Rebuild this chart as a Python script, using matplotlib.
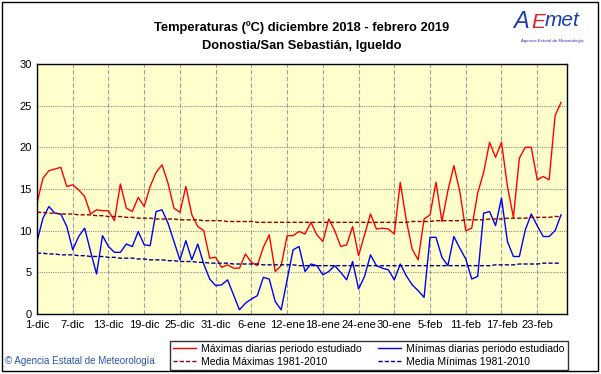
import matplotlib
matplotlib.use("Agg")
import matplotlib.pyplot as plt
import numpy as np
from matplotlib.patches import Rectangle

plt.rcParams["font.family"] = ["Liberation Sans", "DejaVu Sans"]

# Datos diarios 1-dic-2018 .. 27-feb-2019 (ºC)
tmax = [13.3, 16.3, 17.2, 17.4, 17.6, 15.3, 15.5, 14.9, 14.1, 12.0,
        12.5, 12.4, 12.4, 11.2, 15.6, 12.7, 12.3, 14.0, 12.9, 15.3,
        17.0, 17.9, 15.7, 12.7, 12.2, 15.3, 11.9, 10.5, 10.0, 6.7,
        6.8, 5.6, 5.9, 5.5, 5.5, 7.2, 6.2, 5.8, 8.0, 9.5,
        5.1, 5.8, 9.4, 9.4, 9.9, 9.6, 11.0, 9.5, 8.7, 11.4,
        10.0, 8.1, 8.3, 10.5, 7.0, 9.5, 12.0, 10.2, 10.3, 10.2,
        9.6, 15.8, 11.3, 7.8, 6.5, 11.4, 11.9, 15.8, 11.1, 14.8,
        17.8, 14.7, 10.0, 10.3, 14.5, 17.0, 20.6, 18.8, 20.6, 15.3,
        11.6, 18.7, 20.0, 20.0, 16.1, 16.5, 16.1, 23.8, 25.4]

tmin = [8.7, 11.5, 12.9, 12.1, 12.0, 10.5, 7.7, 9.3, 10.3, 7.5,
        4.8, 9.4, 8.1, 7.4, 7.4, 8.4, 8.1, 9.9, 8.3, 8.2,
        12.3, 12.5, 10.9, 8.7, 6.5, 8.8, 6.5, 8.4, 6.0, 4.2,
        3.4, 3.5, 4.1, 2.3, 0.5, 1.3, 1.8, 2.2, 4.4, 4.2,
        1.5, 0.5, 4.1, 7.7, 8.1, 5.1, 6.0, 5.8, 4.7, 5.1,
        5.8, 5.0, 4.1, 6.3, 3.0, 4.5, 7.1, 5.8, 5.5, 5.3,
        4.1, 6.0, 4.6, 3.5, 2.8, 2.0, 9.2, 9.2, 6.8, 5.8,
        9.3, 7.9, 6.6, 4.2, 4.5, 12.1, 12.3, 10.6, 13.9, 8.7,
        6.9, 6.9, 10.1, 12.0, 10.6, 9.3, 9.3, 10.0, 11.9]

# Medias 1981-2010
media_max = [12.2, 12.2, 12.1, 12.1, 12.0, 12.0, 12.0, 11.9, 11.9, 11.9,
             11.8, 11.8, 11.7, 11.7, 11.7, 11.6, 11.6, 11.5, 11.5, 11.5,
             11.4, 11.4, 11.4, 11.4, 11.3, 11.3, 11.3, 11.3, 11.2, 11.2,
             11.2, 11.2, 11.1, 11.1, 11.1, 11.1, 11.1, 11.0, 11.0, 11.0,
             11.0, 11.0, 11.0, 11.0, 11.0, 11.0, 11.0, 11.0, 11.0, 11.0,
             11.0, 11.0, 11.0, 11.0, 11.0, 11.0, 11.0, 11.0, 11.0, 11.0,
             11.0, 11.0, 11.0, 11.1, 11.1, 11.1, 11.1, 11.2, 11.2, 11.2,
             11.2, 11.2, 11.3, 11.3, 11.3, 11.3, 11.4, 11.4, 11.4, 11.5,
             11.5, 11.5, 11.5, 11.6, 11.6, 11.6, 11.6, 11.7, 11.7]

media_min = [7.3, 7.3, 7.2, 7.2, 7.1, 7.1, 7.1, 7.0, 7.0, 6.9,
             6.9, 6.9, 6.8, 6.8, 6.7, 6.7, 6.7, 6.6, 6.6, 6.5,
             6.5, 6.5, 6.4, 6.4, 6.3, 6.3, 6.3, 6.2, 6.2, 6.1,
             6.1, 6.1, 6.1, 6.0, 6.0, 6.0, 6.0, 6.0, 5.9, 5.9,
             5.9, 5.9, 5.9, 5.9, 5.8, 5.8, 5.8, 5.8, 5.8, 5.8,
             5.8, 5.8, 5.8, 5.8, 5.8, 5.8, 5.8, 5.8, 5.8, 5.8,
             5.8, 5.8, 5.8, 5.8, 5.8, 5.8, 5.8, 5.8, 5.8, 5.8,
             5.8, 5.8, 5.8, 5.8, 5.8, 5.8, 5.8, 5.9, 5.9, 5.9,
             5.9, 6.0, 6.0, 6.0, 6.0, 6.1, 6.1, 6.1, 6.1]

etiquetas_x = ["1-dic", "7-dic", "13-dic", "19-dic", "25-dic", "31-dic",
               "6-ene", "12-ene", "18-ene", "24-ene", "30-ene", "5-feb",
               "11-feb", "17-feb", "23-feb"]
n_dias = 89  # 1-dic a 28-feb, eje hasta el último día

fig = plt.figure(figsize=(6.01, 3.74), dpi=100)
fig.patch.set_facecolor("white")
ax = fig.add_axes([37 / 601, 60 / 374, 530 / 601, 250 / 374])
ax.set_facecolor("#ffffcc")

dias = np.arange(len(tmax))
l_max, = ax.plot(dias, tmax, color="#ff0000", lw=1.0)
l_min, = ax.plot(dias, tmin, color="#0000ff", lw=1.0)
l_mmax, = ax.plot(dias, media_max, color="#8b0000", lw=1.0, linestyle=(0, (3, 1.5)))
l_mmin, = ax.plot(dias, media_min, color="#00008b", lw=1.0, linestyle=(0, (3, 1.5)))

ax.set_xlim(0, n_dias)
ax.set_ylim(0, 30)
ax.set_xticks(np.arange(0, 6 * len(etiquetas_x), 6))
ax.set_xticklabels(etiquetas_x)
ax.set_yticks(np.arange(0, 31, 5))
ax.tick_params(length=0, labelsize=8, pad=4)
ax.grid(axis="y", color="#909090", linestyle=(0, (1, 1)), lw=0.8)
ax.grid(axis="x", color="#a0a0a0", linestyle=(0, (4, 2)), lw=0.8)
ax.set_axisbelow(True)
for s in ax.spines.values():
    s.set_linewidth(1.0)
    s.set_color("black")

# Títulos
fig.text(302 / 601, 1 - 28 / 374, "Temperaturas (ºC) diciembre 2018 - febrero 2019",
         ha="center", va="center", fontsize=9.3, fontweight="bold")
fig.text(302 / 601, 1 - 45.5 / 374, "Donostia/San Sebastián, Igueldo",
         ha="center", va="center", fontsize=9.3, fontweight="bold")

# Logo AEMET aproximado
fig.text(513 / 601, 1 - 21 / 374, "A", color="#1c3ea8", fontsize=17, style="italic",
         ha="left", va="center")
fig.text(531 / 601, 1 - 22 / 374, "E", color="#e02020", fontsize=15, style="italic",
         ha="left", va="center")
fig.text(545 / 601, 1 - 20 / 374, "met", color="#1c3ea8", fontsize=15, style="italic",
         ha="left", va="center")
fig.text(552 / 601, 1 - 41 / 374, "Agencia Estatal de Meteorología", color="#1c3ea8",
         fontsize=3.2, ha="center", va="center")

fig.text(5 / 601, 1 - 361 / 374, "© Agencia Estatal de Meteorología", color="#2b55b0",
         fontsize=7, ha="left", va="center")

leg = fig.legend([l_max, l_mmax, l_min, l_mmin],
                 ["Máximas diarias periodo estudiado", "Media Máximas 1981-2010",
                  "Mínimas diarias periodo estudiado", "Media Mínimas 1981-2010"],
                 ncol=2, loc="lower left", bbox_to_anchor=(170 / 601, 4 / 374, 398 / 601, 33 / 374),
                 mode="expand", fontsize=7.5, frameon=True, fancybox=False,
                 borderpad=0.3, handlelength=2.2, handletextpad=0.5, labelspacing=0.3,
                 columnspacing=1.0, borderaxespad=0)
leg.get_frame().set_edgecolor("black")
leg.get_frame().set_linewidth(1.0)

# Marco exterior
fig.add_artist(Rectangle((2 / 601, 3 / 374), 596 / 601, 369 / 374, transform=fig.transFigure,
                         fill=False, edgecolor="black", lw=1.0))

fig.savefig("out.png", dpi=100)
